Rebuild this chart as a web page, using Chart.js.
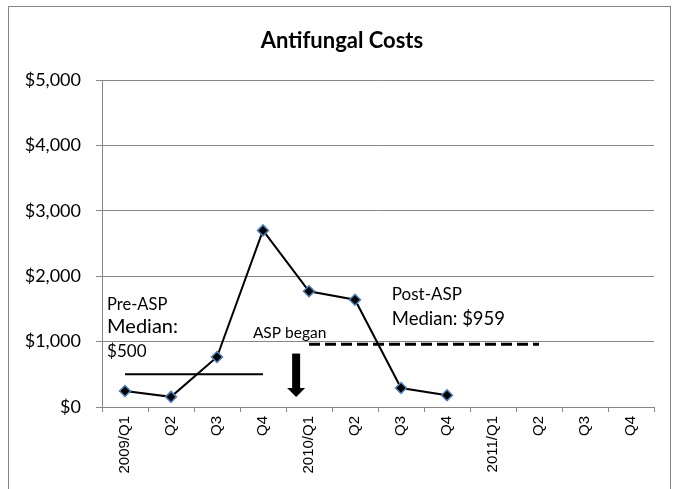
<!DOCTYPE html>
<html>
<head>
<meta charset="utf-8">
<script src="https://cdn.jsdelivr.net/npm/chart.js@4"></script>
<style>
  body { margin: 0; background: #fff; }
  #wrap { width: 677px; height: 489px; }
</style>
</head>
<body>
<div id="wrap"><canvas id="costChart" width="677" height="489"></canvas></div>
<script>
const chartTitle = 'Antifungal Costs';
const categories = ['2009/Q1', 'Q2', 'Q3', 'Q4', '2010/Q1', 'Q2', 'Q3', 'Q4', '2011/Q1', 'Q2', 'Q3', 'Q4'];
const costs = [245, 155, 765, 2700, 1770, 1640, 290, 180, null, null, null, null];
const preMedian = [500, 500, 500, 500, null, null, null, null, null, null, null, null];
const postMedian = [null, null, null, null, 959, 959, 959, 959, 959, 959, null, null];
const yTicks = [0, 1000, 2000, 3000, 4000, 5000];

// notes placed in data units (category index, dollars)
const notes = [
    { text: 'Pre-ASP', x: -0.39, y: 1480, size: 16.5 },
    { text: 'Median:', x: -0.39, y: 1127, size: 20 },
    { text: '$500', x: -0.39, y: 765, size: 17 },
    { text: 'ASP began', x: 2.78, y: 1055, size: 15.5 },
    { text: 'Post-ASP', x: 5.80, y: 1632, size: 17 },
    { text: 'Median: $959', x: 5.80, y: 1249, size: 18.5 }
];
const arrow = { x: 3.72, from: 817, to: 153 };

const notesPlugin = {
    id: 'notes',
    beforeDraw(chart) {
        const c = chart.ctx;
        c.save();
        c.strokeStyle = '#868686';
        c.lineWidth = 1;
        c.strokeRect(8.5, 6.5, 662, 500);
        // title sits a bit right of the canvas centre, like the original
        c.fillStyle = '#000';
        c.font = 'bold 22px Lato';
        c.textAlign = 'center';
        c.textBaseline = 'middle';
        c.fillText(chartTitle, 342, 41);
        c.restore();
    },
    afterDatasetsDraw(chart) {
        const c = chart.ctx;
        const xs = chart.scales.x, ys = chart.scales.y;
        c.save();
        c.fillStyle = '#000';
        c.textBaseline = 'alphabetic';
        c.textAlign = 'left';
        notes.forEach(n => {
            c.font = n.size + 'px Lato';
            c.fillText(n.text, xs.getPixelForValue(n.x), ys.getPixelForValue(n.y));
        });
        const ax = xs.getPixelForValue(arrow.x);
        const top = ys.getPixelForValue(arrow.from);
        const bot = ys.getPixelForValue(arrow.to);
        c.fillRect(ax - 4, top, 8, bot - top - 8);
        c.beginPath();
        c.moveTo(ax - 9, bot - 9);
        c.lineTo(ax + 9, bot - 9);
        c.lineTo(ax, bot);
        c.closePath();
        c.fill();
        c.restore();
    }
};

new Chart(document.getElementById('costChart'), {
    type: 'line',
    data: {
        labels: categories,
        datasets: [
            {
                label: 'Costs',
                data: costs,
                borderColor: '#000',
                borderWidth: 2,
                pointStyle: 'rectRot',
                pointRadius: 5.5,
                pointBackgroundColor: '#000',
                pointBorderColor: '#4F81BD',
                pointBorderWidth: 1.5,
                tension: 0
            },
            {
                label: 'Pre-ASP median',
                data: preMedian,
                borderColor: '#000',
                borderWidth: 2,
                pointRadius: 0
            },
            {
                label: 'Post-ASP median',
                data: postMedian,
                borderColor: '#000',
                borderWidth: 3,
                borderDash: [11, 5],
                pointRadius: 0
            }
        ]
    },
    options: {
        responsive: false,
        animation: false,
        layout: { padding: { left: 10, right: 23, top: 80, bottom: 10 } },
        plugins: {
            title: { display: false },
            legend: { display: false },
            tooltip: { enabled: false }
        },
        scales: {
            x: {
                offset: true,
                afterFit: s => { s.height = 72; },
                grid: {
                    display: true,
                    offset: true,
                    drawOnChartArea: false,
                    color: '#868686',
                    tickLength: 5
                },
                border: { color: '#868686' },
                ticks: {
                    color: '#000',
                    font: { family: 'Liberation Sans', size: 15 },
                    minRotation: 90,
                    maxRotation: 90,
                    autoSkip: false,
                    padding: 4
                }
            },
            y: {
                min: 0,
                max: 5000,
                afterFit: s => { s.width = 92; },
                afterBuildTicks: s => { s.ticks = yTicks.map(v => ({ value: v })); },
                grid: { color: '#868686', tickLength: 6 },
                border: { color: '#868686' },
                ticks: {
                    color: '#000',
                    font: { family: 'Lato', size: 18 },
                    padding: 15,
                    callback: v => '$' + v.toLocaleString('en-US')
                }
            }
        }
    },
    plugins: [notesPlugin]
});
</script>
</body>
</html>
